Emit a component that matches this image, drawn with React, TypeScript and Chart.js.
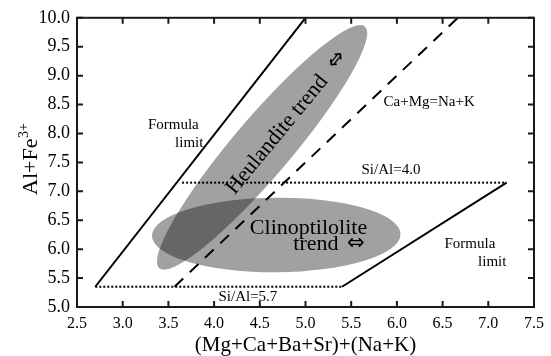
import React, { useEffect, useRef } from "react";
import { Chart, registerables } from "chart.js";

Chart.register(...registerables);

// ---- axis ranges ----
const X_MIN = 2.5;
const X_MAX = 7.5;
const Y_MIN = 5.0;
const Y_MAX = 10.0;
const TICK_STEP = 0.5;

// ---- lines (data coordinates) ----
const formulaLimitUpper = [
  { x: 2.7, y: 5.35 },
  { x: 5.0, y: 10.0 },
];
const formulaLimitLower = [
  { x: 5.4, y: 5.35 },
  { x: 7.2, y: 7.15 },
];
const siAl40Line = [
  { x: 3.65, y: 7.15 },
  { x: 7.2, y: 7.15 },
];
const siAl57Line = [
  { x: 2.7, y: 5.35 },
  { x: 5.4, y: 5.35 },
];
const caMgNaKLine = [
  { x: 3.567, y: 5.35 },
  { x: 6.667, y: 10.0 },
];

// ---- trend ellipses: major-axis end points + one minor-axis end point ----
const heulanditeMajor = [
  { x: 3.4, y: 5.67 },
  { x: 5.65, y: 9.85 },
];
const heulanditeMinor = { x: 4.768, y: 7.437 };
const clinoMajor = [
  { x: 3.32, y: 6.23 },
  { x: 6.04, y: 6.26 },
];
const clinoMinor = { x: 4.68, y: 6.89 };

// ---- annotation texts and their anchor points (data coordinates) ----
const annotationTexts = [
  "Formula",
  "limit",
  "Formula",
  "limit",
  "Ca+Mg=Na+K",
  "Si/Al=4.0",
  "Si/Al=5.7",
  "Heulandite trend",
  "\u21D4",
  "Clinoptilolite",
  "trend",
  "\u21D4",
];
const annotationX = [3.554, 3.728, 6.799, 7.043, 6.353, 5.935, 4.37, 4.69, 5.34, 5.033, 5.114, 5.55];
const annotationY = [8.14, 7.833, 6.092, 5.785, 8.549, 7.372, 5.171, 7.978, 9.27, 6.365, 6.092, 6.1];

// styles for the annotations (font size px, rotation deg)
const annotationSize = [15, 15, 15, 15, 15, 15, 15, 22, 21, 22, 22, 21];
const annotationRot = [0, 0, 0, 0, 0, 0, 0, -50.5, -50.5, 0, 0, 0];

const SERIF = "'Liberation Serif', 'Times New Roman', serif";
const ELLIPSE_FILL = "rgba(0,0,0,0.37)";

function px(chart: any, p: { x: number; y: number }) {
  return {
    x: chart.scales.x.getPixelForValue(p.x),
    y: chart.scales.y.getPixelForValue(p.y),
  };
}

function drawEllipse(chart: any, major: { x: number; y: number }[], minor: { x: number; y: number }) {
  const ctx = chart.ctx;
  const a = px(chart, major[0]);
  const b = px(chart, major[1]);
  const m = px(chart, minor);
  const cx = (a.x + b.x) / 2;
  const cy = (a.y + b.y) / 2;
  const rx = Math.hypot(b.x - a.x, b.y - a.y) / 2;
  const ang = Math.atan2(b.y - a.y, b.x - a.x);
  const ry = Math.abs(-(m.x - cx) * Math.sin(ang) + (m.y - cy) * Math.cos(ang));
  ctx.save();
  ctx.beginPath();
  ctx.ellipse(cx, cy, rx, ry, ang, 0, Math.PI * 2);
  ctx.fillStyle = ELLIPSE_FILL;
  ctx.fill();
  ctx.restore();
}

const ellipsePlugin = {
  id: "ellipses",
  beforeDatasetsDraw(chart: any) {
    drawEllipse(chart, heulanditeMajor, heulanditeMinor);
    drawEllipse(chart, clinoMajor, clinoMinor);
  },
};

const framePlugin = {
  id: "frameAndText",
  afterDatasetsDraw(chart: any) {
    const ctx = chart.ctx;
    const { left, right, top, bottom } = chart.chartArea;
    const xs = chart.scales.x;
    const ys = chart.scales.y;
    ctx.save();
    // annotations
    ctx.fillStyle = "#000";
    ctx.textAlign = "center";
    ctx.textBaseline = "middle";
    annotationTexts.forEach((t, i) => {
      const p = px(chart, { x: annotationX[i], y: annotationY[i] });
      ctx.save();
      ctx.translate(p.x, p.y);
      ctx.rotate((annotationRot[i] * Math.PI) / 180);
      const isArrow = t === "\u21D4";
      ctx.font = `${annotationSize[i]}px ${isArrow ? "'DejaVu Sans', sans-serif" : SERIF}`;
      ctx.fillText(t, 0, 0);
      ctx.restore();
    });

    // frame
    ctx.strokeStyle = "#1a1a1a";
    ctx.lineWidth = 2;
    ctx.strokeRect(left, top, right - left, bottom - top);
    // inward ticks on all four sides
    const tl = 6;
    ctx.beginPath();
    xs.ticks.forEach((t: any) => {
      const x = xs.getPixelForValue(t.value);
      ctx.moveTo(x, bottom);
      ctx.lineTo(x, bottom - tl);
      ctx.moveTo(x, top);
      ctx.lineTo(x, top + tl);
    });
    ys.ticks.forEach((t: any) => {
      const y = ys.getPixelForValue(t.value);
      ctx.moveTo(left, y);
      ctx.lineTo(left + tl, y);
      ctx.moveTo(right, y);
      ctx.lineTo(right - tl, y);
    });
    ctx.stroke();

    // y-axis title with superscript
    ctx.save();
    ctx.translate(37, 195);
    ctx.rotate(-Math.PI / 2);
    ctx.textAlign = "left";
    ctx.textBaseline = "alphabetic";
    ctx.fillStyle = "#000";
    ctx.font = `22px ${SERIF}`;
    const main = "Al+Fe";
    ctx.fillText(main, 0, 0);
    const w = ctx.measureText(main).width;
    ctx.font = `14px ${SERIF}`;
    ctx.fillText("3+", w + 0.5, -9);
    ctx.restore();

    ctx.restore();
  },
};

function lineDs(data: any[], dash: number[] = []) {
  return {
    data,
    showLine: true,
    borderColor: "#000",
    borderWidth: 2,
    borderDash: dash,
    pointRadius: 0,
    fill: false,
    tension: 0,
  };
}

export default function App() {
  const ref = useRef<HTMLCanvasElement | null>(null);
  useEffect(() => {
    if (!ref.current) return;
    const chart = new Chart(ref.current, {
      type: "scatter",
      data: {
        datasets: [
          lineDs(formulaLimitUpper),
          lineDs(formulaLimitLower),
          lineDs(siAl40Line, [2, 2]),
          lineDs(siAl57Line, [2, 2]),
          lineDs(caMgNaKLine, [12, 9]),
        ] as any,
      },
      options: {
        animation: false,
        responsive: false,
        maintainAspectRatio: false,
        layout: { padding: { top: 14, right: 14, left: 0, bottom: 0 } },
        plugins: {
          legend: { display: false },
          tooltip: { enabled: false },
        },
        scales: {
          x: {
            type: "linear",
            min: X_MIN,
            max: X_MAX,
            grid: { display: false, drawTicks: false },
            border: { display: false },
            ticks: {
              stepSize: TICK_STEP,
              padding: 7,
              color: "#000",
              font: { family: SERIF, size: 16 },
              callback: (v: any) => Number(v).toFixed(1),
              maxRotation: 0,
            },
            title: {
              display: true,
              text: "(Mg+Ca+Ba+Sr)+(Na+K)",
              color: "#000",
              font: { family: SERIF, size: 21, lineHeight: 1 },
              padding: { top: 0, bottom: 0 },
            },
            afterFit: (s: any) => {
              s.height = 49;
            },
          },
          y: {
            type: "linear",
            min: Y_MIN,
            max: Y_MAX,
            grid: { display: false, drawTicks: false },
            border: { display: false },
            ticks: {
              stepSize: TICK_STEP,
              padding: 7,
              color: "#000",
              font: { family: SERIF, size: 18 },
              callback: (v: any) => Number(v).toFixed(1),
            },
            afterFit: (s: any) => {
              s.width = 77;
            },
          },
        },
      } as any,
      plugins: [ellipsePlugin, framePlugin],
    });
    return () => chart.destroy();
  }, []);
  return (
    <div style={{ position: "absolute", left: 0, top: 0, width: 551, height: 356, background: "#fff" }}>
      <canvas ref={ref} width={551} height={356} style={{ display: "block" }} />
    </div>
  );
}
